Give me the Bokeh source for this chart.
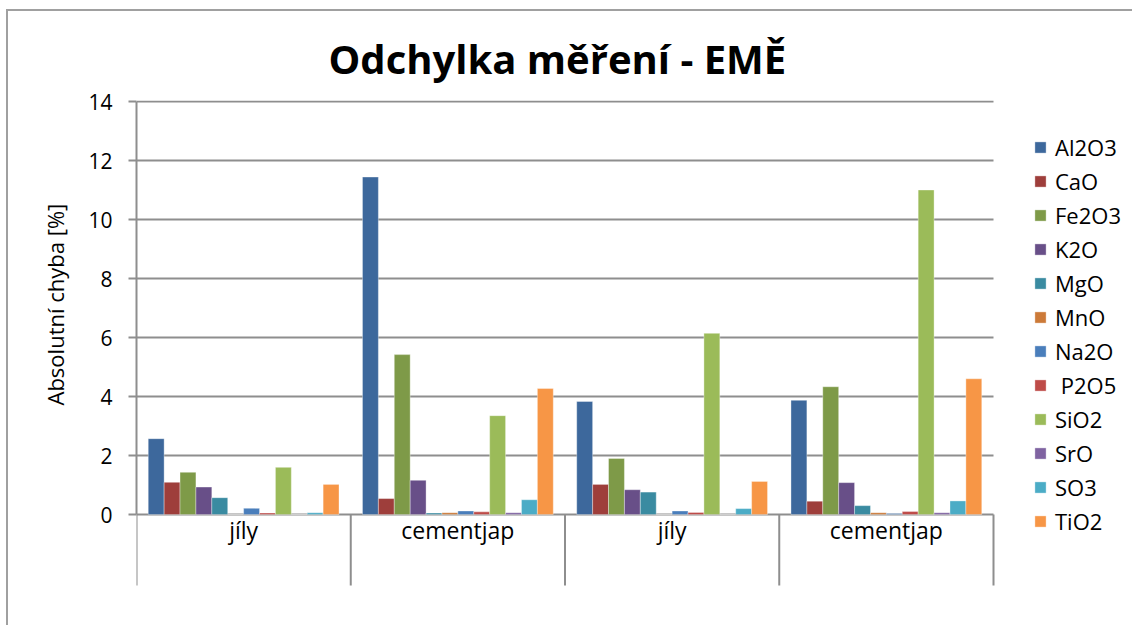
from bokeh.plotting import figure
from bokeh.models import Range1d, FixedTicker, Legend, LegendItem, ColumnDataSource, Title
from bokeh.transform import dodge
from bokeh.core.properties import value
from bokeh.embed import file_html
from bokeh.resources import INLINE

# ---- data ----
categories = ["jíly", "cementjap", "jíly", "cementjap"]
series_names = ["Al2O3", "CaO", "Fe2O3", "K2O", "MgO", "MnO", "Na2O", " P2O5", "SiO2", "SrO", "SO3", "TiO2"]
al2o3 = [2.57, 11.44, 3.83, 3.87]
cao = [1.09, 0.54, 1.02, 0.45]
fe2o3 = [1.43, 5.42, 1.90, 4.33]
k2o = [0.93, 1.16, 0.84, 1.08]
mgo = [0.57, 0.05, 0.76, 0.30]
mno = [0.0, 0.06, 0.0, 0.06]
na2o = [0.21, 0.12, 0.12, 0.03]
p2o5 = [0.05, 0.09, 0.07, 0.10]
sio2 = [1.60, 3.35, 6.14, 11.00]
sro = [0.0, 0.06, 0.0, 0.06]
so3 = [0.06, 0.50, 0.20, 0.46]
tio2 = [1.02, 4.27, 1.12, 4.60]
y_ticks = [0, 2, 4, 6, 8, 10, 12, 14]

series_values = [al2o3, cao, fe2o3, k2o, mgo, mno, na2o, p2o5, sio2, sro, so3, tio2]
colors = ["#3D689C", "#9E3E3B", "#7E9A48", "#684F88", "#3A8BA1", "#CC7A38",
          "#4A7EBB", "#BE4B48", "#9BBB59", "#7F63A1", "#4BACC6", "#F79646"]

FONT = "Open Sans"
GRAY = "#8e8e8e"

# ---- geometry (pixels) ----
W, H = 1126, 616
LEFT, TOP, RIGHT, BOTTOM = 128, 89, 2, 20
frame_w = W - LEFT - RIGHT
frame_h = H - TOP - BOTTOM
px_x = 214.25          # pixels per category
px_y = 29.5            # pixels per unit
y_top = 14 + 1 / px_y
y_bot = y_top - frame_h / px_y
x_end = frame_w / px_x

xs = [i + 0.5 for i in range(len(categories))]
data = {"x": xs}
for k, vals in enumerate(series_values):
    data["s%d" % k] = vals
src = ColumnDataSource(data)

p = figure(width=W, height=H, output_backend="svg", toolbar_location=None,
           x_range=Range1d(0, x_end), y_range=Range1d(y_bot, y_top),
           min_border_left=LEFT, min_border_right=RIGHT, min_border_top=TOP, min_border_bottom=BOTTOM)
p.styles = {"margin-left": "6px", "margin-top": "9px",
            "border-left": "2px solid #a0a0a0", "border-top": "2px solid #a0a0a0"}
p.outline_line_color = None
p.background_fill_color = "white"
p.border_fill_color = "white"
p.xgrid.visible = False
p.ygrid.visible = False
p.xaxis.visible = False

ncat = len(categories)
# horizontal grid lines over the plot area
p.segment(x0=[0] * len(y_ticks), x1=[ncat] * len(y_ticks), y0=y_ticks, y1=y_ticks,
          line_color=GRAY, line_width=2)
# category separators below the axis
sep_len = 71 / px_y
p.segment(x0=list(range(ncat + 1)), x1=list(range(ncat + 1)),
          y0=[0] * (ncat + 1), y1=[-sep_len] * (ncat + 1), line_color=GRAY, line_width=2)
# category labels
p.text(x=xs, y=[-15 / px_y] * ncat, text=categories, text_align="center", text_baseline="middle",
       text_font=value(FONT), text_font_size="23px", text_color="black")

n = len(series_names)
bw = 15.9 / px_x
renderers = []
for k in range(n):
    r = p.vbar(x=dodge("x", (k - (n - 1) / 2) * bw, range=p.x_range), top="s%d" % k, width=bw,
               source=src, fill_color=colors[k], line_color="white", line_alpha=0.35, line_width=1)
    renderers.append(r)

# title
p.title.text = "Odchylka měření - EMĚ"
p.title.align = "left"
p.title.offset = 192
p.title.text_font = FONT
p.title.text_font_size = "40px"
p.title.text_font_style = "bold"
p.title.text_color = "black"
p.title.standoff = 29

# y axis
p.yaxis.ticker = FixedTicker(ticks=y_ticks)
p.yaxis.bounds = (0, 14)
p.yaxis.axis_line_color = GRAY
p.yaxis.axis_line_width = 2
p.yaxis.major_tick_line_color = GRAY
p.yaxis.major_tick_line_width = 2
p.yaxis.major_tick_out = 8
p.yaxis.major_tick_in = 0
p.yaxis.minor_tick_line_color = None
p.yaxis.major_label_text_font = FONT
p.yaxis.major_label_text_font_size = "21px"
p.yaxis.major_label_text_color = "black"
p.yaxis.major_label_standoff = 16

ylabel = Title(text="Absolutní chyba [%]", align="left", offset=208 - 6,
               text_font=FONT, text_font_size="22px", text_font_style="normal",
               text_color="black", standoff=32)
p.add_layout(ylabel, "left")

# legend
items = [LegendItem(label=series_names[k], renderers=[renderers[k]]) for k in range(n)]
legend = Legend(items=items, location=(897, 69), orientation="vertical",
                glyph_width=14, glyph_height=14, label_standoff=8,
                label_text_font=FONT, label_text_font_size="22px", label_text_color="black",
                label_height=34, spacing=0, padding=0, margin=0,
                border_line_color=None, background_fill_alpha=0)
p.add_layout(legend, "center")

open("out.html", "w").write(file_html(p, INLINE))
